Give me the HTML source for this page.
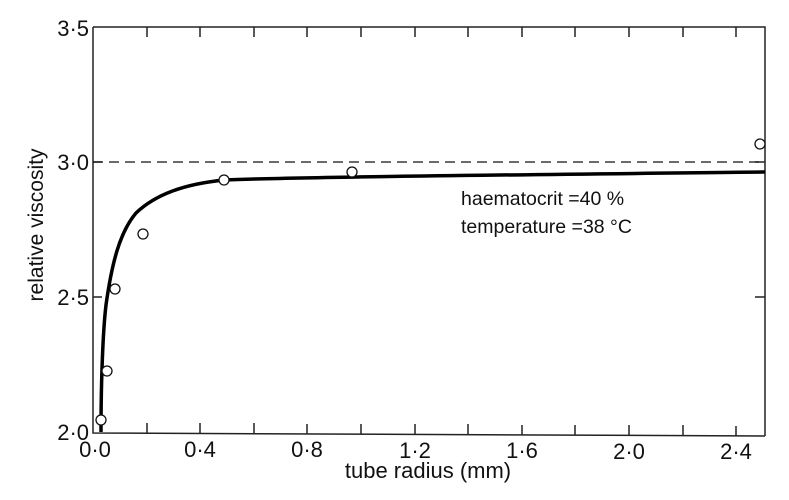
<!DOCTYPE html>
<html><head><style>body{margin:0;background:#fff}svg{display:block}</style></head>
<body>
<svg width="789" height="500" viewBox="0 0 789 500" xmlns="http://www.w3.org/2000/svg" font-family="Liberation Sans, sans-serif" fill="#111">
<g stroke="#222" stroke-width="1.5" fill="none">
<path d="M93,27 L765,27 L765,436 M93,27 L93,433 L765,436"/>
<path d="M147,27v10 M200,27v10 M254,27v10 M307,27v10 M361,27v10 M415,27v10 M468,27v10 M522,27v10 M575,27v10 M629,27v10 M683,27v10 M736,27v10"/>
<path d="M147,433v-10 M200,433v-10 M254,433v-10 M307,434v-10 M361,434v-10 M415,434v-10 M468,434v-10 M522,435v-10 M575,435v-10 M629,435v-10 M683,435v-10 M736,436v-10"/>
<path d="M93,162h9 M93,297h9 M755,162h10 M755,297h10"/>
<path d="M93,162H765" stroke="#111" stroke-dasharray="10,6" stroke-width="1.2"/>
<path d="M101,432 C101,380 103,330 106,305 C112,262 120,232 136,213 C156,194 185,184 224,180 C300,177 500,175 765,172" stroke="#000" stroke-width="3.5"/>
</g>
<g stroke="#111" stroke-width="1.3" fill="#fff">
<circle cx="101" cy="420" r="5"/><circle cx="107" cy="371" r="5"/><circle cx="115" cy="289" r="5"/><circle cx="143" cy="234" r="5"/><circle cx="224" cy="180" r="5"/><circle cx="352" cy="172" r="5"/><circle cx="760" cy="144" r="5"/>
</g>
<g font-size="22" text-anchor="end">
<text x="89" y="36">3·5</text><text x="89" y="170">3·0</text><text x="89" y="305">2·5</text><text x="89" y="440">2·0</text>
</g>
<g font-size="22" text-anchor="middle">
<text x="95" y="457">0·0</text><text x="200" y="457">0·4</text><text x="307" y="457">0·8</text><text x="415" y="458">1·2</text><text x="522" y="458">1·6</text><text x="629" y="459">2·0</text><text x="736" y="459">2·4</text>
</g>
<text x="428" y="478" font-size="22" text-anchor="middle">tube radius (mm)</text>
<text transform="translate(43,225) rotate(-90)" font-size="21" text-anchor="middle">relative viscosity</text>
<text x="461" y="205" font-size="19.5">haematocrit =40 %</text>
<text x="461" y="233" font-size="19.5">temperature =38 °C</text>
</svg>
</body></html>
